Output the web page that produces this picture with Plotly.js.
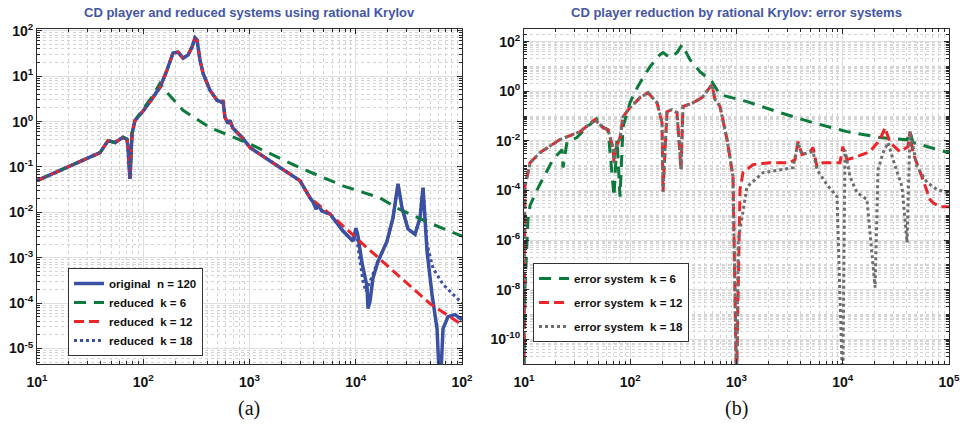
<!DOCTYPE html>
<html>
<head>
<meta charset="utf-8">
<script src="https://cdn.plot.ly/plotly-3.0.1.min.js"></script>
<style>html,body{margin:0;padding:0;background:#fff}</style>
</head>
<body>
<div id="chart" style="width:964px;height:431px"></div>
<script>
// ---------- (a) frequency response: shared low-frequency part ----------
const baseFreq = [10, 20.4, 39.2, 46.6, 54.2, 64.5, 70.3, 71.8, 75.0, 78.4, 83.6, 99.5, 120.8, 143.8, 167.3, 190.6, 212.5, 236.8, 263.8, 287.6, 307, 320.6, 342, 365, 424.6, 494.3, 551, 563, 587, 628, 655, 699, 869, 1011, 1738, 2986, 3710];
const baseMag  = [0.05, 0.107, 0.207, 0.38, 0.346, 0.45, 0.41, 0.27, 0.055, 0.55, 1.06, 1.7, 3.1, 5.7, 13.6, 32.5, 34, 25, 29.4, 44, 70, 63, 22.7, 11.7, 4.9, 2.95, 2.67, 2.95, 1.24, 0.91, 1.06, 0.71, 0.425, 0.268, 0.115, 0.050, 0.0209];

// original n = 120, high-frequency tail
const origTailFreq = [3960, 4225, 4415, 4810, 5725, 7590, 9420, 10050, 10500, 11460, 12770, 13040, 13620, 14520, 16190, 19660, 22420, 25000, 27250, 31040, 36130, 40280, 42970, 46880, 52240, 58230, 62110, 66260, 73870, 85930, 100000];
const origTailMag  = [0.017, 0.0119, 0.0146, 0.0107, 0.0092, 0.00387, 0.00232, 0.0045, 0.0030, 0.00076, 0.000234, 0.000076, 0.00011, 0.000355, 0.00083, 0.0023, 0.0076, 0.0427, 0.0126, 0.0043, 0.0033, 0.0076, 0.035, 0.00139, 0.000155, 0.0000273, 0.000001, 0.0000273, 0.0000505, 0.0000558, 0.0000432];

// reduced k = 6
const k6LowCount = 11;
const k6TailFreq = [99.5, 120.8, 143.8, 167.3, 236.8, 424.6, 762, 1011, 2986, 7590, 16900, 24430, 50000, 100000];
const k6TailMag  = [1.9, 3.5, 7.0, 4.4, 1.77, 0.74, 0.42, 0.32, 0.096, 0.0385, 0.0209, 0.0125, 0.0058, 0.0030];

// reduced k = 12
const k12TailFreq = [5725, 11700, 24430, 50000, 100000];
const k12TailMag  = [0.0092, 0.0020, 0.00043, 0.0000977, 0.0000335];

// reduced k = 18
const k18TailFreq = [3960, 4225, 4415, 4810, 5725, 7590, 9420, 10050, 10960, 11700, 12480, 13620, 15180, 16190, 19660, 22420, 25000, 27250, 31040, 36130, 40280, 42970, 46880, 53330, 66260, 82250, 100000];
const k18TailMag  = [0.017, 0.0119, 0.0146, 0.0107, 0.0092, 0.00387, 0.00232, 0.0035, 0.00076, 0.0003, 0.00018, 0.0003, 0.00058, 0.00083, 0.0023, 0.0076, 0.0427, 0.0126, 0.0043, 0.0033, 0.0076, 0.035, 0.002, 0.00059, 0.00026, 0.000155, 0.0001];

// ---------- (b) error systems ----------
const errCommonFreq = [10, 10.2, 11.4, 14.1, 21.8, 33.7, 46.6, 55.4, 61.8, 68.8, 70.3, 71.8, 80.1, 85.5, 99.5, 123.6, 146.9, 178.6, 199, 203.3, 221.8, 247.2, 275.4, 300.5, 313.5, 389.9, 473.3, 563.3, 587.6, 627.6, 655, 699.8, 814.7, 927, 1000];
const errCommonMag  = [1e-12, 1.4e-4, 1.3e-3, 3.3e-3, 0.0112, 0.0235, 0.0716, 0.034, 0.028, 0.005, 0.0013, 0.004, 0.0135, 0.0946, 0.218, 0.55, 0.88, 0.347, 0.054, 9e-5, 0.15, 0.18, 0.137, 0.00069, 0.24, 0.347, 0.55, 1.53, 1.85, 0.458, 0.38, 0.24, 0.0112, 3.6e-4, 1e-12];

const err12TailFreq = [1079, 1151, 1430, 2066, 3190, 3555, 3793, 4134, 4920, 5250, 5725, 6520, 9420, 10000, 10960, 13620, 18030, 22430, 25000, 27860, 34590, 41120, 42960, 45810, 56890, 66250, 70630, 82220, 100000];
const err12TailMag  = [1.08e-4, 5.2e-4, 1.1e-3, 1.32e-3, 1.32e-3, 1.75e-3, 9.3e-3, 2.8e-3, 3.67e-3, 5.3e-3, 9.1e-4, 1.32e-3, 1.32e-3, 5.8e-3, 1.75e-3, 2.3e-3, 3.67e-3, 0.0112, 0.034, 8.5e-3, 3.67e-3, 5.8e-3, 0.0235, 3.3e-3, 2.7e-4, 4.3e-5, 3.2e-5, 2.2e-5, 2.2e-5];

const err18TailFreq = [1040, 1256, 1775, 2566, 3404, 3793, 4134, 5250, 5725, 7110, 8830, 10000, 10500, 11700, 13620, 16900, 20140, 21480, 23930, 26680, 29720, 36130, 40270, 42960, 50000, 62110, 77110, 91650, 100000];
const err18TailMag  = [1e-6, 1.42e-4, 5.2e-4, 6.9e-4, 8.3e-4, 8.5e-3, 2.8e-3, 3.67e-3, 6.9e-4, 1.7e-4, 5.6e-5, 1e-12, 4.4e-3, 3.6e-4, 8.1e-5, 4.3e-5, 1.2e-8, 6.9e-4, 3.3e-3, 8.5e-3, 1.75e-3, 1.42e-4, 7.9e-7, 0.0235, 9.1e-4, 2.1e-4, 1.08e-4, 8.9e-5, 7.6e-5];

const err6Freq = [10, 10.2, 10.9, 11.4, 13.3, 15.8, 18.7, 22.8, 23.3, 25.4, 31.5, 39.2, 46.6, 49.7, 54.2, 61.8, 70.3, 75.0, 80.1, 85.5, 99.5, 110.9, 123.6, 153.5, 190.6, 203.3, 236.8, 275.4, 307, 365, 453, 587.6, 699.8, 1256, 2566, 5250, 10960, 22430, 40270, 42960, 45810, 87820, 100000];
const err6Mag  = [1e-12, 1e-8, 6.6e-6, 2.5e-5, 1.08e-4, 4.3e-4, 1.75e-3, 4.4e-3, 8.3e-4, 9.3e-3, 0.0135, 0.037, 0.0716, 0.085, 0.037, 0.028, 5.6e-5, 0.0112, 5.6e-5, 0.037, 0.347, 0.96, 2.2, 9.8, 30, 36, 22.6, 36, 75.7, 18.8, 6.2, 2.44, 0.73, 0.38, 0.137, 0.054, 0.0235, 0.0135, 0.011, 0.0235, 8.5e-3, 3.67e-3, 3.3e-3];

// ---------- tick labels ----------
const xTickVals = [10, 100, 1000, 10000, 100000];
const xTickTextA = ['<b>10<sup>1</sup></b>', '<b>10<sup>2</sup></b>', '<b>10<sup>3</sup></b>', '<b>10<sup>4</sup></b>', '<b>10<sup>2</sup></b>'];
const xTickTextB = ['<b>10<sup>1</sup></b>', '<b>10<sup>2</sup></b>', '<b>10<sup>3</sup></b>', '<b>10<sup>4</sup></b>', '<b>10<sup>5</sup></b>'];
const yTickValsA = [1e-5, 1e-4, 1e-3, 1e-2, 1e-1, 1, 10, 100];
const yTickTextA = ['<b>10<sup>-5</sup></b>', '<b>10<sup>-4</sup></b>', '<b>10<sup>-3</sup></b>', '<b>10<sup>-2</sup></b>', '<b>10<sup>-1</sup></b>', '<b>10<sup>0</sup></b>', '<b>10<sup>1</sup></b>', '<b>10<sup>2</sup></b>'];
const yTickValsB = [1e-10, 1e-8, 1e-6, 1e-4, 1e-2, 1, 100];
const yTickTextB = ['<b>10<sup>-10</sup></b>', '<b>10<sup>-8</sup></b>', '<b>10<sup>-6</sup></b>', '<b>10<sup>-4</sup></b>', '<b>10<sup>-2</sup></b>', '<b>10<sup>0</sup></b>', '<b>10<sup>2</sup></b>'];

// minor grid positions (axis decoration)
function minorPositions(loExp, hiExp, majors) {
  const out = [];
  for (let e = loExp; e <= hiExp; e++) {
    for (let k = 1; k <= 9; k++) {
      const v = k * Math.pow(10, e);
      if (!majors.some(m => Math.abs(m - v) / v < 1e-9)) out.push(v);
    }
  }
  return out;
}

const C_BLUE = '#3a51a3', C_GREEN = '#0b7a3b', C_RED = '#ee2528', C_GRAY = '#6e6e6e';
const SANS = '"Liberation Sans", Arial, Helvetica, sans-serif';

const traces = [
  {x: baseFreq.concat(origTailFreq), y: baseMag.concat(origTailMag), name: '<b>original\u00a0\u00a0n = 120</b>',
   mode: 'lines', line: {color: C_BLUE, width: 3.5}, xaxis: 'x', yaxis: 'y', legend: 'legend'},
  {x: baseFreq.slice(0, k6LowCount).concat(k6TailFreq), y: baseMag.slice(0, k6LowCount).concat(k6TailMag), name: '<b>reduced\u00a0\u00a0k = 6</b>',
   mode: 'lines', line: {color: C_GREEN, width: 3, dash: '12px,8px'}, xaxis: 'x', yaxis: 'y', legend: 'legend'},
  {x: baseFreq.concat(k12TailFreq), y: baseMag.concat(k12TailMag), name: '<b>reduced\u00a0\u00a0k = 12</b>',
   mode: 'lines', line: {color: C_RED, width: 3, dash: '10px,5px'}, xaxis: 'x', yaxis: 'y', legend: 'legend'},
  {x: baseFreq.concat(k18TailFreq), y: baseMag.concat(k18TailMag), name: '<b>reduced\u00a0\u00a0k = 18</b>',
   mode: 'lines', line: {color: C_BLUE, width: 3, dash: '3px,3px'}, xaxis: 'x', yaxis: 'y', legend: 'legend'},

  {x: err6Freq, y: err6Mag, name: '<b>error system\u00a0\u00a0k = 6</b>', legendgroup: 'e6',
   mode: 'lines', line: {color: C_GREEN, width: 3, dash: '12px,8px'}, xaxis: 'x2', yaxis: 'y2', legend: 'legend2'},
  {x: errCommonFreq.concat(err12TailFreq), y: errCommonMag.concat(err12TailMag), name: '<b>error system\u00a0\u00a0k = 12</b>', legendgroup: 'e12',
   mode: 'lines', line: {color: C_RED, width: 3, dash: '10px,5px'}, xaxis: 'x2', yaxis: 'y2', legend: 'legend2'},
  {x: errCommonFreq.concat(err18TailFreq), y: errCommonMag.concat(err18TailMag), name: '<b>error system\u00a0\u00a0k = 18</b>', legendgroup: 'e18',
   mode: 'lines', line: {color: C_GRAY, width: 3, dash: '3px,3px'}, xaxis: 'x2', yaxis: 'y2', legend: 'legend2'}
];

const tickFont = {family: SANS, size: 14, color: '#111'};
function axisBase(extra) {
  return Object.assign({
    type: 'log', showline: true, mirror: 'ticks', linecolor: '#2a2a2a', linewidth: 1,
    ticks: 'inside', ticklen: 5, tickcolor: '#2a2a2a', tickwidth: 1,
    showgrid: true, gridcolor: '#dedede', gridwidth: 1, zeroline: false,
    tickmode: 'array', tickfont: tickFont, fixedrange: true
  }, extra);
}
function minorCfg(vals) {
  return {tickmode: 'array', tickvals: vals, ticks: 'inside', ticklen: 3, tickcolor: '#2a2a2a',
          showgrid: true, gridcolor: '#d4d4d4', griddash: '3px,3px', gridwidth: 1};
}

const legendFont = {family: SANS, size: 11.5, color: '#111'};

const layout = {
  width: 964, height: 431,
  margin: {l: 37, r: 15, t: 29, b: 67},
  paper_bgcolor: '#fff', plot_bgcolor: '#fff',
  font: {family: SANS},
  xaxis: axisBase({domain: [0, 0.466], range: [1, 5], tickvals: xTickVals, ticktext: xTickTextA,
    minor: minorCfg(minorPositions(1, 4, xTickVals)), anchor: 'y', ticklabelstandoff: 5}),
  yaxis: axisBase({range: [-5.34, 2.04], tickvals: yTickValsA, ticktext: yTickTextA,
    minor: minorCfg(minorPositions(-6, 2, yTickValsA)), anchor: 'x'}),
  xaxis2: axisBase({domain: [0.534, 1], range: [1, 5], tickvals: xTickVals, ticktext: xTickTextB,
    minor: minorCfg(minorPositions(1, 4, xTickVals)), anchor: 'y2', ticklabelstandoff: 5}),
  yaxis2: axisBase({range: [-11, 2.51], tickvals: yTickValsB, ticktext: yTickTextB,
    minor: minorCfg(minorPositions(-11, 2, yTickValsB)), anchor: 'x2'}),
  showlegend: true,
  legend: {x: 0.034, y: 0.2866, xanchor: 'left', yanchor: 'top', bgcolor: '#fff', bordercolor: '#333', borderwidth: 1,
           font: legendFont, tracegroupgap: 0, traceorder: 'normal'},
  legend2: {x: 0.5439, y: 0.3015, xanchor: 'left', yanchor: 'top', bgcolor: '#fff', bordercolor: '#333', borderwidth: 1,
           font: legendFont, tracegroupgap: 5, traceorder: 'grouped'},
  annotations: [
    {text: '<b>CD player and reduced systems using rational Krylov</b>', xref: 'x domain', yref: 'paper', x: 0.5, y: 1.048,
     xanchor: 'center', yanchor: 'middle', showarrow: false,
     font: {family: SANS, size: 13, color: '#4456a6'}},
    {text: '<b>CD player reduction by rational Krylov: error systems</b>', xref: 'x2 domain', yref: 'paper', x: 0.5, y: 1.048,
     xanchor: 'center', yanchor: 'middle', showarrow: false,
     font: {family: SANS, size: 13, color: '#4456a6'}},
    {text: '(a)', xref: 'x domain', yref: 'paper', x: 0.5, y: -0.134, xanchor: 'center', yanchor: 'middle', showarrow: false,
     font: {family: '"Liberation Serif", "DejaVu Serif", serif', size: 20, color: '#111'}},
    {text: '(b)', xref: 'x2 domain', yref: 'paper', x: 0.5, y: -0.134, xanchor: 'center', yanchor: 'middle', showarrow: false,
     font: {family: '"Liberation Serif", "DejaVu Serif", serif', size: 20, color: '#111'}}
  ]
};

Plotly.newPlot('chart', traces, layout, {displayModeBar: false, staticPlot: true});
</script>
</body>
</html>
